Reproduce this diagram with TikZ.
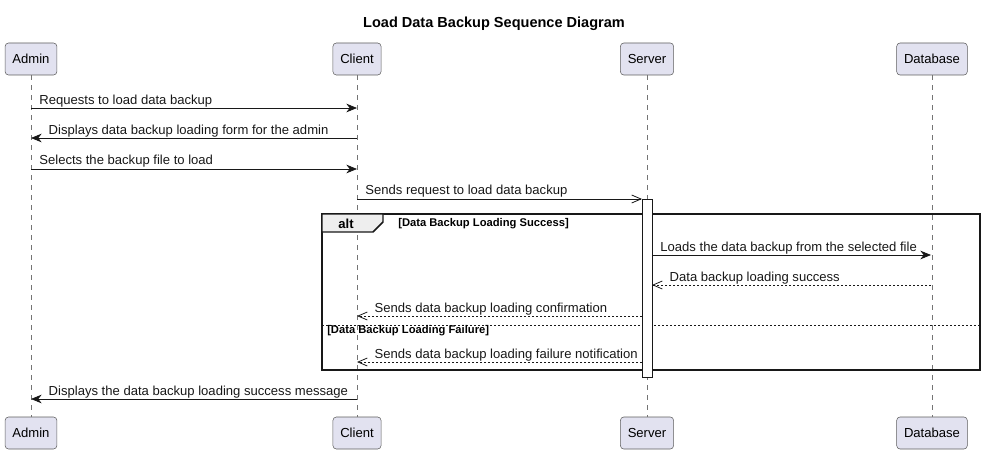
\documentclass[tikz,border=0pt]{standalone}
\usepackage{fontspec}
\setmainfont{Liberation Sans}
\usetikzlibrary{arrows.meta, positioning}
\definecolor{partfill}{HTML}{E2E2F0}
\definecolor{partline}{HTML}{181818}
\definecolor{tabfill}{HTML}{EEEEEE}
\newcommand{\msgfont}{\fontsize{9.8}{11}\selectfont}

\begin{document}
\begin{tikzpicture}[x=0.75pt, y=-0.75pt,
    party/.style={draw=partline!70, fill=partfill, rounded corners=2.5pt, minimum height=24pt, inner xsep=5.5pt, font=\msgfont},
    lifeline/.style={draw=partline!60, dash pattern=on 3.75pt off 3.75pt, line width=0.4pt},
    sync/.style={draw=partline, line width=0.6pt, -{Stealth[length=8pt, width=6.5pt, inset=2.5pt]}},
    async/.style={draw=partline, line width=0.6pt, -{Straight Barb[length=7pt, width=6pt]}},
    reply/.style={async, dash pattern=on 1.5pt off 1.5pt},
    lblr/.style={anchor=base west, inner sep=0pt, xshift=6pt, yshift=3pt, font=\msgfont, text=partline},
    lbll/.style={anchor=base west, inner sep=0pt, xshift=13pt, yshift=3pt, font=\msgfont, text=partline},
    guard/.style={anchor=west, inner sep=0pt, font=\bfseries\fontsize{8.4}{9}\selectfont}
]
\useasboundingbox (0,0) rectangle (986,453);

\node[font=\bfseries\fontsize{10.9}{12}\selectfont] (title) at (494,24) {Load Data Backup Sequence Diagram};

% participants, top and bottom
\node[party] (admin)  at (31,59)  {Admin};
\node[party] (client) at (357,59) {Client};
\node[party] (server) at (647,59) {Server};
\node[party] (db)     at (932,59) {Database};

\node[party] (adminB)  at (31,433)  {Admin};
\node[party] (clientB) at (357,433) {Client};
\node[party] (serverB) at (647,433) {Server};
\node[party] (dbB)     at (932,433) {Database};

\draw[lifeline] (admin)  -- (adminB);
\draw[lifeline] (client) -- (clientB);
\draw[lifeline] (server) -- (serverB);
\draw[lifeline] (db)     -- (dbB);

% alt frame
\draw[partline, line width=1.1pt] (322,214) rectangle (980,370);
\draw[partline, line width=1.1pt, fill=tabfill] (322,214) -- (383,214) -- (383,222) -- (373,232) -- (322,232) -- cycle;
\node[font=\bfseries\fontsize{9.8}{11}\selectfont] (alt) at (346,224) {alt};
\node[guard] (g1) at (398,224) {[Data Backup Loading Success]};
\draw[partline, line width=0.5pt, dash pattern=on 1.5pt off 1.5pt] (322,325) -- (980,325);
\node[guard] (g2) at (327,331) {[Data Backup Loading Failure]};

% activation on server
\node[draw=partline, fill=white, line width=0.6pt, minimum width=7.5pt, minimum height=133.5pt, inner sep=0pt] (act) at (647,288) {};

% message end points
\coordinate (a1) at (31,108);  \coordinate (c1) at (357,108);
\coordinate (a2) at (31,138);  \coordinate (c2) at (357,138);
\coordinate (a3) at (31,169);  \coordinate (c3) at (357,169);
\coordinate (c4) at (357,199); \coordinate (s4) at (642,199);
\coordinate (s5) at (652,255); \coordinate (d5) at (931,255);
\coordinate (d6) at (931,285); \coordinate (s6) at (652,285);
\coordinate (s7) at (642,316); \coordinate (c7) at (357,316);
\coordinate (s8) at (642,362); \coordinate (c8) at (357,362);
\coordinate (c9) at (357,399); \coordinate (a9) at (31,399);

% messages
\draw[sync]  (a1) -- (c1) node[pos=0, lblr] {Requests to load data backup};
\draw[sync]  (c2) -- (a2) node[pos=1, lbll] {Displays data backup loading form for the admin};
\draw[sync]  (a3) -- (c3) node[pos=0, lblr] {Selects the backup file to load};
\draw[async] (c4) -- (s4) node[pos=0, lblr] {Sends request to load data backup};
\draw[sync]  (s5) -- (d5) node[pos=0, lblr] {Loads the data backup from the selected file};
\draw[reply] (d6) -- (s6) node[pos=1, lbll] {Data backup loading success};
\draw[reply] (s7) -- (c7) node[pos=1, lbll] {Sends data backup loading confirmation};
\draw[reply] (s8) -- (c8) node[pos=1, lbll] {Sends data backup loading failure notification};
\draw[sync]  (c9) -- (a9) node[pos=1, lbll] {Displays the data backup loading success message};
\end{tikzpicture}
\end{document}
